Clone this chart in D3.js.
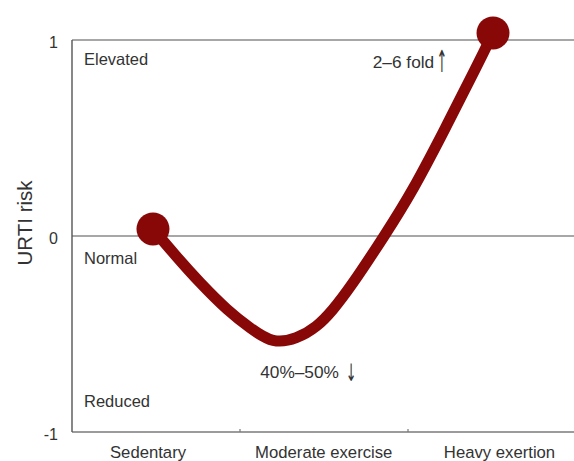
<!DOCTYPE html>
<html>
<head>
<meta charset="utf-8">
<script src="https://cdn.jsdelivr.net/npm/d3@7"></script>
<style>
  html, body { margin: 0; padding: 0; background: #fff; }
  svg { display: block; font-family: "Liberation Sans", Arial, sans-serif; }
</style>
</head>
<body>
<svg id="chart" width="574" height="461"></svg>
<script>
// ---- data ----
const categories = ["Sedentary", "Moderate exercise", "Heavy exertion"];
const yTicks = [-1, 0, 1];
const gridValues = [1, 0];
const zoneLabels = ["Elevated", "Normal", "Reduced"];
const zoneValues = [0.872, -0.143, -0.872];
// curve sampled along a continuous activity axis (0..3 = three category bands)
const curveX = [0.482, 0.613, 0.762, 0.929, 1.060, 1.196, 1.339, 1.458, 1.548, 1.655, 1.863, 2.024, 2.220, 2.417, 2.506];
const curveY = [0.036, -0.097, -0.240, -0.383, -0.470, -0.550, -0.525, -0.464, -0.383, -0.265, 0.005, 0.224, 0.546, 0.878, 1.036];
const annotations = ["40%\u201350%", "2\u20136 fold"];
const annotX = [1.12, 1.79];
const annotY = [-0.725, 0.857];
const arrows = ["\u2193", "\u2191"];
const arrowX = [1.661, 2.202];
const arrowY = [-0.696, 0.895];
const yTitle = "URTI risk";

(function () {
// ---- layout ----
const svg = d3.select("#chart");
const mLeft = 72, mRight = 576, mTop = 40, mBottom = 432;

const x = d3.scaleLinear().domain([0, 3]).range([mLeft, mRight]);
const xBand = d3.scaleBand().domain(categories).range([mLeft, mRight]);
const xLabel = d3.scalePoint().domain(categories).range([147.5, 499]);
const y = d3.scaleLinear().domain([-1, 1]).range([mBottom, mTop]);

const textColor = "#333";
const font = "Liberation Sans, Arial, sans-serif";

// gridlines at 1 and 0
svg.append("g").selectAll("line").data(gridValues).join("line")
  .attr("x1", mLeft).attr("x2", 574)
  .attr("y1", d => y(d)).attr("y2", d => y(d))
  .attr("stroke", "#8a8a8a").attr("stroke-width", 1.4);

// bottom axis
const xAxis = d3.axisBottom(xLabel).tickSize(0).tickPadding(14);
const gx = svg.append("g").attr("transform", `translate(0,${mBottom})`).call(xAxis);
gx.select(".domain").attr("stroke", "#7a7a7a").attr("stroke-width", 1.4)
  .attr("d", `M${mLeft},0H574`);
gx.selectAll(".tick text").attr("font-size", 16.7).attr("fill", textColor)
  .attr("font-family", font);
// small inner ticks at band boundaries
svg.append("g").selectAll("line").data(categories.slice(1)).join("line")
  .attr("x1", d => xBand(d)).attr("x2", d => xBand(d))
  .attr("y1", mBottom).attr("y2", mBottom - 3)
  .attr("stroke", "#7a7a7a").attr("stroke-width", 1.2);

// left axis
const yAxis = d3.axisLeft(y).tickValues(yTicks).tickSize(0).tickPadding(14)
  .tickFormat(d => String(d));
const gy = svg.append("g").attr("transform", `translate(${mLeft},0)`).call(yAxis);
gy.select(".domain").attr("stroke", "#555").attr("stroke-width", 1.4)
  .attr("d", `M0,${mTop}V${mBottom}`);
gy.selectAll(".tick text").attr("font-size", 16).attr("fill", textColor)
  .attr("font-family", font)
  .attr("dy", "0.45em");

// y title
svg.append("text")
  .attr("transform", `translate(32,223) rotate(-90)`)
  .attr("text-anchor", "middle")
  .attr("font-size", 20.5).attr("fill", textColor)
  .text(yTitle);

// zone labels
svg.append("g").selectAll("text").data(zoneLabels).join("text")
  .attr("x", mLeft + 12)
  .attr("y", (d, i) => y(zoneValues[i]))
  .attr("font-size", 16.5).attr("fill", textColor)
  .text(d => d);

// curve
const pts = curveX.map((d, i) => [d, curveY[i]]);
const line = d3.line().x(d => x(d[0])).y(d => y(d[1])).curve(d3.curveBasis);
const red = "#880808";
svg.append("path").datum(pts)
  .attr("d", line).attr("fill", "none")
  .attr("stroke", red).attr("stroke-width", 11)
  .attr("stroke-linecap", "round").attr("stroke-linejoin", "round");

svg.append("g").selectAll("circle").data([pts[0], pts[pts.length - 1]]).join("circle")
  .attr("cx", d => x(d[0])).attr("cy", d => y(d[1]))
  .attr("r", 16.5).attr("fill", red);

// annotations
svg.append("g").selectAll("text").data(annotations).join("text")
  .attr("x", (d, i) => x(annotX[i]))
  .attr("y", (d, i) => y(annotY[i]))
  .attr("font-size", 17.3).attr("fill", textColor)
  .text(d => d);

// tall thin arrows
svg.append("g").selectAll("text").data(arrows).join("text")
  .attr("transform", (d, i) => `translate(${x(arrowX[i])},${y(arrowY[i])}) scale(0.8,${i === 0 ? 1.5 : 1.9})`)
  .attr("text-anchor", "middle")
  .attr("dominant-baseline", "central")
  .attr("font-family", "DejaVu Sans, sans-serif")
  .attr("font-size", 16).attr("fill", textColor)
  .text(d => d);
})();
</script>
</body>
</html>
